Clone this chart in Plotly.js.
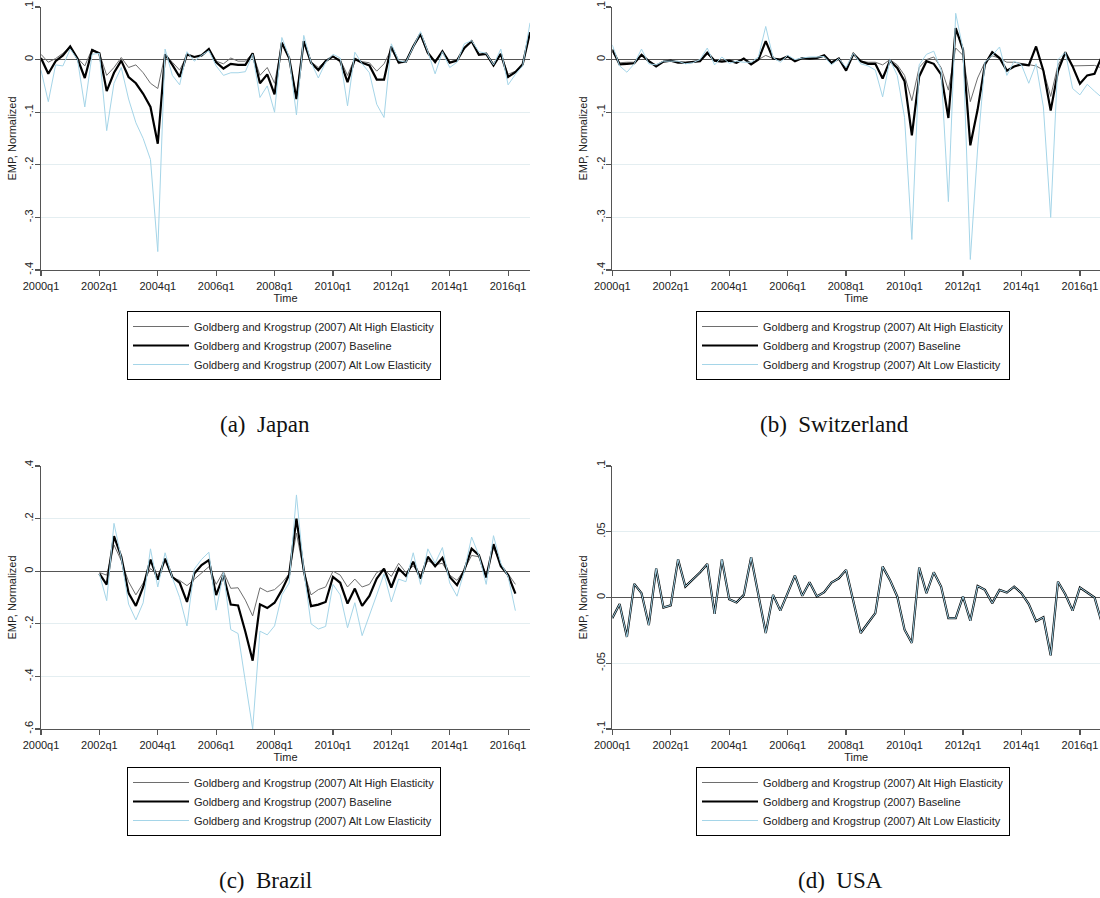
<!DOCTYPE html>
<html>
<head>
<meta charset="utf-8">
<script src="https://cdn.plot.ly/plotly-3.0.1.min.js"></script>
<style>html,body{margin:0;padding:0;background:#fff;}#chart{width:1100px;height:898px;}</style>
</head>
<body>
<div id="chart"></div>
<script>
const quarters = ["2000q1","2000q2","2000q3","2000q4","2001q1","2001q2","2001q3","2001q4",
"2002q1","2002q2","2002q3","2002q4","2003q1","2003q2","2003q3","2003q4",
"2004q1","2004q2","2004q3","2004q4","2005q1","2005q2","2005q3","2005q4",
"2006q1","2006q2","2006q3","2006q4","2007q1","2007q2","2007q3","2007q4",
"2008q1","2008q2","2008q3","2008q4","2009q1","2009q2","2009q3","2009q4",
"2010q1","2010q2","2010q3","2010q4","2011q1","2011q2","2011q3","2011q4",
"2012q1","2012q2","2012q3","2012q4","2013q1","2013q2","2013q3","2013q4",
"2014q1","2014q2","2014q3","2014q4","2015q1","2015q2","2015q3","2015q4",
"2016q1","2016q2","2016q3","2016q4"];
const xTickLabels = ["2000q1","2002q1","2004q1","2006q1","2008q1","2010q1","2012q1","2014q1","2016q1"];
const seriesNames = ["Goldberg and Krogstrup (2007) Alt High Elasticity","Goldberg and Krogstrup (2007) Baseline","Goldberg and Krogstrup (2007) Alt Low Elasticity"];
const captions = ["(a)\u00a0\u00a0Japan","(b)\u00a0\u00a0Switzerland","(c)\u00a0\u00a0Brazil","(d)\u00a0\u00a0USA"];

// Japan
const japanHigh = [0.01,-0.005,0.002,0.012,0.025,0.003,-0.012,0.02,0.012,-0.03,
-0.015,0.004,-0.015,-0.01,-0.025,-0.045,-0.055,0.01,-0.005,-0.02,
0.008,0.005,0.008,0.02,-0.003,-0.008,0.003,-0.003,-0.003,0.012,
-0.03,-0.015,-0.045,0.03,0.003,-0.07,0.035,-0.004,-0.015,-0.002,
0.006,0.0,-0.03,0.003,-0.004,-0.006,-0.022,-0.008,0.02,-0.008,
-0.002,0.025,0.045,0.01,-0.002,0.015,-0.004,-0.001,0.02,0.035,
0.01,0.012,-0.008,0.01,-0.028,-0.022,-0.01,0.05];
const japanBase = [0.003,-0.027,-0.003,0.008,0.025,0.002,-0.035,0.018,0.012,-0.06,
-0.025,-0.002,-0.033,-0.045,-0.065,-0.09,-0.16,0.01,-0.01,-0.033,
0.01,0.005,0.008,0.02,-0.005,-0.017,-0.008,-0.01,-0.01,0.012,
-0.045,-0.028,-0.066,0.032,0.003,-0.075,0.035,-0.006,-0.02,-0.003,
0.006,-0.003,-0.043,0.001,-0.006,-0.011,-0.038,-0.038,0.025,-0.005,
-0.004,0.025,0.049,0.013,-0.005,0.016,-0.006,-0.002,0.022,0.035,
0.009,0.011,-0.011,0.011,-0.033,-0.024,-0.009,0.052];
const japanLow = [-0.02,-0.08,-0.01,-0.012,0.02,0.0,-0.09,0.01,0.012,-0.135,
-0.045,-0.015,-0.075,-0.12,-0.15,-0.19,-0.365,0.02,-0.03,-0.048,
0.015,-0.003,0.008,0.017,-0.012,-0.03,-0.025,-0.025,-0.023,0.01,
-0.072,-0.05,-0.1,0.042,0.005,-0.105,0.046,-0.005,-0.035,-0.005,
0.01,0.003,-0.088,0.014,-0.008,-0.025,-0.085,-0.11,0.03,-0.002,
-0.005,0.025,0.053,0.015,-0.027,0.015,-0.015,-0.005,0.03,0.036,
0.015,0.012,-0.01,0.02,-0.048,-0.028,-0.012,0.07];

// Switzerland
const swissHigh = [0.015,-0.006,-0.005,-0.005,0.008,-0.002,-0.01,-0.003,-0.002,-0.004,
-0.005,-0.004,-0.003,0.01,-0.001,-0.003,-0.002,-0.004,0.002,-0.006,
0.0,0.008,0.002,0.0,0.005,-0.002,0.003,0.002,0.003,0.006,
-0.004,0.002,-0.018,0.01,-0.003,-0.005,-0.005,-0.01,0.0,-0.01,
-0.03,-0.078,-0.015,0.0,0.005,-0.015,-0.058,0.022,0.008,-0.08,
-0.035,-0.005,0.007,0.003,-0.005,-0.005,-0.007,-0.01,-0.012,-0.02,
-0.07,-0.01,0.012,-0.012,-0.012,-0.011,-0.011,-0.016];
const swissBase = [0.019,-0.009,-0.008,-0.007,0.009,-0.003,-0.013,-0.004,-0.002,-0.006,
-0.006,-0.005,-0.003,0.013,-0.002,-0.004,-0.002,-0.006,0.002,-0.009,
0.0,0.035,0.002,0.0,0.006,-0.003,0.003,0.002,0.003,0.008,
-0.006,0.002,-0.021,0.011,-0.003,-0.008,-0.008,-0.036,-0.002,-0.016,
-0.041,-0.144,-0.032,-0.003,-0.008,-0.028,-0.111,0.06,0.019,-0.163,
-0.095,-0.009,0.014,0.003,-0.021,-0.013,-0.009,-0.011,0.025,-0.021,
-0.097,-0.022,0.014,-0.013,-0.046,-0.03,-0.027,0.006];
const swissLow = [0.028,-0.012,-0.024,-0.008,0.02,-0.008,-0.01,-0.003,-0.003,-0.003,
-0.008,-0.006,0.0,0.022,-0.01,0.005,-0.007,-0.003,-0.005,-0.005,
0.005,0.063,0.004,-0.005,0.008,0.0,0.003,0.005,0.005,0.006,
-0.01,0.002,-0.015,0.012,-0.008,-0.012,-0.02,-0.071,0.0,-0.03,
-0.11,-0.342,-0.01,0.01,0.016,-0.02,-0.27,0.088,0.02,-0.38,
-0.17,-0.005,0.008,0.024,-0.03,-0.003,-0.01,-0.045,-0.008,-0.09,
-0.3,0.0,0.014,-0.055,-0.067,-0.047,-0.06,-0.072];

// Brazil (2002q1 - 2016q2)
const brazilQuarters = quarters.slice(8, 66);
const brazilHigh = [-0.005,-0.015,0.1,0.04,-0.04,-0.09,-0.045,0.01,-0.015,0.04,
-0.025,-0.035,-0.055,-0.03,-0.005,0.017,-0.05,-0.002,-0.065,-0.063,
-0.11,-0.17,-0.063,-0.078,-0.07,-0.045,-0.01,0.145,0.0,-0.09,
-0.07,-0.06,0.0,-0.015,-0.06,-0.03,-0.06,-0.05,-0.005,0.008,
-0.02,0.03,-0.005,0.02,-0.015,0.04,0.025,0.03,-0.015,-0.035,
0.005,0.06,0.055,-0.015,0.09,0.025,-0.01,-0.05];
const brazilBase = [-0.009,-0.051,0.133,0.055,-0.083,-0.132,-0.06,0.044,-0.032,0.048,
-0.022,-0.044,-0.117,-0.009,0.023,0.042,-0.091,-0.015,-0.127,-0.13,
-0.23,-0.34,-0.126,-0.14,-0.12,-0.072,-0.013,0.2,0.004,-0.133,
-0.127,-0.117,-0.022,-0.044,-0.123,-0.066,-0.132,-0.094,-0.028,0.01,
-0.062,0.01,-0.018,0.036,-0.028,0.055,0.019,0.051,-0.022,-0.053,
0.004,0.086,0.061,-0.024,0.103,0.019,-0.015,-0.085];
const brazilLow = [-0.01,-0.112,0.182,0.05,-0.125,-0.185,-0.12,0.085,-0.06,0.07,
-0.025,-0.1,-0.208,0.008,0.045,0.072,-0.148,-0.005,-0.222,-0.237,
-0.42,-0.6,-0.228,-0.242,-0.208,-0.09,-0.045,0.29,0.005,-0.2,
-0.22,-0.21,-0.05,-0.09,-0.215,-0.12,-0.245,-0.17,-0.09,-0.01,
-0.117,-0.03,-0.04,0.07,-0.05,0.085,0.03,0.09,-0.045,-0.095,
0.0,0.13,0.06,-0.05,0.135,0.03,-0.02,-0.15];

// USA
const usaHigh = [-0.0157,-0.005,-0.03,0.0104,0.0033,-0.021,0.022,-0.0076,-0.006,0.029,
0.0083,0.0134,0.019,0.0255,-0.0124,0.029,-0.0013,-0.0038,0.002,0.0306,
0.0008,-0.027,0.002,-0.01,0.0033,0.0167,0.0013,0.0116,0.0008,0.004,
0.0114,0.0146,0.021,-0.002,-0.027,-0.0194,-0.0119,0.0235,0.0134,0.0008,
-0.0245,-0.0346,0.0227,0.0033,0.0192,0.0083,-0.0157,-0.0157,0.0008,-0.0177,
0.0088,0.0058,-0.0043,0.0058,0.0038,0.0083,0.0033,-0.005,-0.018,-0.015,
-0.044,0.012,0.0025,-0.01,0.0076,0.0038,0.0,-0.0194];
const usaBase = [-0.0157,-0.005,-0.03,0.0104,0.0033,-0.021,0.022,-0.0076,-0.006,0.029,
0.0083,0.0134,0.019,0.0255,-0.0124,0.029,-0.0013,-0.0038,0.002,0.0306,
0.0008,-0.027,0.002,-0.01,0.0033,0.0167,0.0013,0.0116,0.0008,0.004,
0.0114,0.0146,0.021,-0.002,-0.027,-0.0194,-0.0119,0.0235,0.0134,0.0008,
-0.0245,-0.0346,0.0227,0.0033,0.0192,0.0083,-0.0157,-0.0157,0.0008,-0.0177,
0.0088,0.0058,-0.0043,0.0058,0.0038,0.0083,0.0033,-0.005,-0.018,-0.015,
-0.044,0.012,0.0025,-0.01,0.0076,0.0038,0.0,-0.0194];
const usaLow = [-0.0157,-0.005,-0.03,0.0104,0.0033,-0.021,0.022,-0.0076,-0.006,0.029,
0.0083,0.0134,0.019,0.0255,-0.0124,0.029,-0.0013,-0.0038,0.002,0.0306,
0.0008,-0.027,0.002,-0.01,0.0033,0.0167,0.0013,0.0116,0.0008,0.004,
0.0114,0.0146,0.021,-0.002,-0.027,-0.0194,-0.0119,0.0235,0.0134,0.0008,
-0.0245,-0.0346,0.0227,0.0033,0.0192,0.0083,-0.0157,-0.0157,0.0008,-0.0177,
0.0088,0.0058,-0.0043,0.0058,0.0038,0.0083,0.0033,-0.005,-0.018,-0.015,
-0.044,0.012,0.0025,-0.01,0.0076,0.0038,0.0,-0.0194];

const yTicksA = [-0.4,-0.3,-0.2,-0.1,0,0.1];
const yLabelsA = ["-.4","-.3","-.2","-.1","0",".1"];
const yTicksC = [-0.6,-0.4,-0.2,0,0.2,0.4];
const yLabelsC = ["-.6","-.4","-.2","0",".2",".4"];
const yTicksD = [-0.1,-0.05,0,0.05,0.1];
const yLabelsD = ["-.1","-.05","0",".05",".1"];

const W = 1100, H = 898;
const FONT = "Liberation Sans, Arial, sans-serif";
const styles = [
  {color:"#6e6e6e", width:1},
  {color:"#000000", width:2.2},
  {color:"#a5d5e8", width:1}
];

const panels = [
  {x: quarters, series:[japanHigh, japanBase, japanLow], ax:"", leg:"legend"},
  {x: quarters, series:[swissHigh, swissBase, swissLow], ax:"2", leg:"legend2"},
  {x: brazilQuarters, series:[brazilHigh, brazilBase, brazilLow], ax:"3", leg:"legend3"},
  {x: quarters, series:[usaHigh, usaBase, usaLow], ax:"4", leg:"legend4"}
];

const traces = [];
panels.forEach(p => {
  p.series.forEach((vals, k) => {
    traces.push({
      type:"scatter", mode:"lines", x:p.x, y:vals, name:seriesNames[k],
      xaxis:"x"+p.ax, yaxis:"y"+p.ax, legend:p.leg,
      line:{color:styles[k].color, width:styles[k].width},
      hoverinfo:"skip"
    });
  });
});

function xax(domain, rng){
  return {domain:domain, type:"category", categoryorder:"array", categoryarray:quarters,
    range:rng, tickvals:xTickLabels, ticktext:xTickLabels, tickmode:"array",
    showline:true, linecolor:"#555", linewidth:1.4, ticks:"outside", ticklen:5, tickcolor:"#555", tickwidth:1.2,
    showgrid:false, zeroline:false, tickfont:{family:FONT, size:11, color:"#222"},
    title:{text:"Time", font:{family:FONT, size:11, color:"#222"}, standoff:1}, fixedrange:true};
}
function yax(domain, rng, tv, tt, anchor){
  return {domain:domain, range:rng, tickvals:tv, ticktext:tt, tickmode:"array", anchor:anchor,
    showline:true, linecolor:"#555", linewidth:1.4, ticks:"outside", ticklen:5, tickcolor:"#555", tickwidth:1.2,
    tickangle:-90, ticklabelstandoff:-3, showgrid:true, gridcolor:"#e4eef1", gridwidth:1,
    zeroline:true, zerolinecolor:"#555", zerolinewidth:1.4,
    tickfont:{family:FONT, size:11, color:"#222"},
    title:{text:"EMP, Normalized", font:{family:FONT, size:11, color:"#222"}, standoff:4}, fixedrange:true};
}

const dxL = [41/W, 530/W];
const dxR = [612.3/W, 1];
const dyT = [1-270/H, 1-7/H];
const dyB = [1-729/H, 1-466/H];

function legendAt(xc, ytop){
  return {x:xc/W, y:1-ytop/H, xanchor:"center", yanchor:"top", xref:"paper", yref:"paper",
    bgcolor:"#fff", bordercolor:"#000", borderwidth:1, itemwidth:56, traceorder:"normal",
    font:{family:FONT, size:11, color:"#222"}, itemclick:false, itemdoubleclick:false};
}

const layout = {
  width:W, height:H, margin:{l:0,r:0,t:0,b:0}, paper_bgcolor:"#fff", plot_bgcolor:"#fff",
  showlegend:true,
  xaxis: Object.assign(xax(dxL, [0,67]), {anchor:"y"}),
  yaxis: yax(dyT, [-0.4,0.1], yTicksA, yLabelsA, "x"),
  xaxis2: Object.assign(xax(dxR, [0,66.75]), {anchor:"y2"}),
  yaxis2: yax(dyT, [-0.4,0.1], yTicksA, yLabelsA, "x2"),
  xaxis3: Object.assign(xax(dxL, [0,67]), {anchor:"y3"}),
  yaxis3: yax(dyB, [-0.6,0.4], yTicksC, yLabelsC, "x3"),
  xaxis4: Object.assign(xax(dxR, [0,66.75]), {anchor:"y4"}),
  yaxis4: yax(dyB, [-0.1,0.1], yTicksD, yLabelsD, "x4"),
  legend: legendAt(284, 311),
  legend2: legendAt(853, 311),
  legend3: legendAt(284, 767),
  legend4: legendAt(853, 767),
  annotations: [
    {text:captions[0], x:265/W, y:1-424/H},
    {text:captions[1], x:834/W, y:1-424/H},
    {text:captions[2], x:265/W, y:1-880/H},
    {text:captions[3], x:840/W, y:1-880/H}
  ].map(a => Object.assign(a, {xref:"paper", yref:"paper", xanchor:"center", yanchor:"middle",
      showarrow:false, font:{family:"Liberation Serif, Times New Roman, serif", size:23, color:"#111"}}))
};

Plotly.newPlot("chart", traces, layout, {displayModeBar:false, staticPlot:true});
</script>
</body>
</html>
